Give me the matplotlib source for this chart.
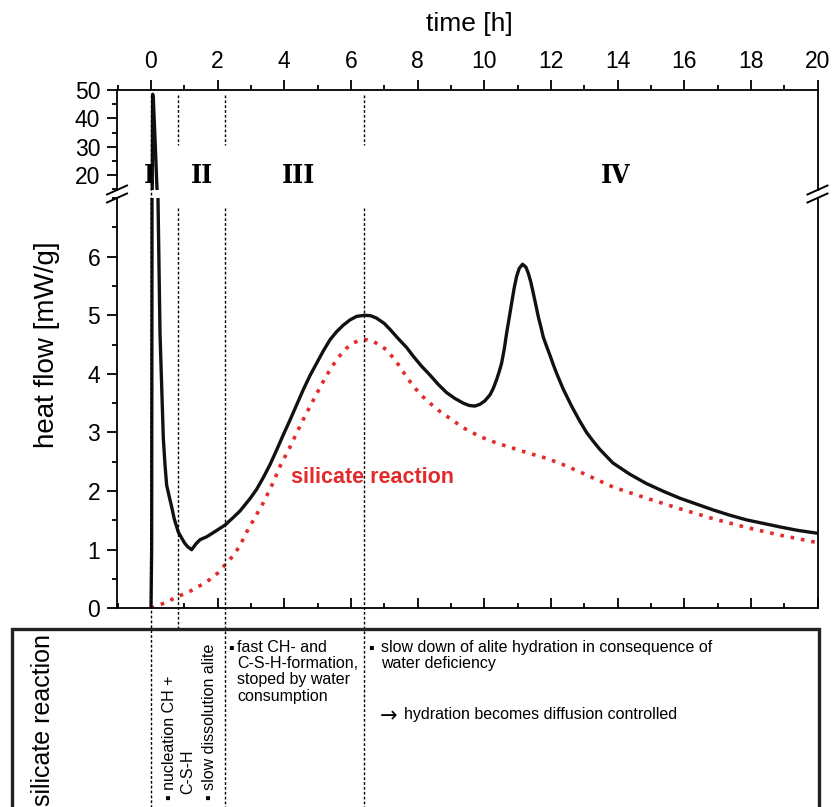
import numpy as np
import matplotlib
matplotlib.use('Agg')
import matplotlib.pyplot as plt
from matplotlib.lines import Line2D
from matplotlib.patches import Rectangle
from matplotlib.ticker import MultipleLocator
import matplotlib.transforms as mtrans

plt.rcParams['font.family'] = ['Liberation Sans', 'DejaVu Sans']

# total heat flow (black)
t_total = [0.0, 0.02, 0.03, 0.04, 0.05, 0.07, 0.12, 0.17, 0.21, 0.27, 0.32, 0.37,
           0.42, 0.47, 0.55, 0.62, 0.7, 0.82, 1.0, 1.1, 1.22, 1.35, 1.47, 1.67,
           1.95, 2.22, 2.47, 2.67, 2.97, 3.17, 3.37, 3.57, 3.77, 3.97, 4.17, 4.37,
           4.57, 4.77, 4.97, 5.17, 5.37, 5.57, 5.77, 5.97, 6.17, 6.42, 6.6, 6.77,
           7.0, 7.17, 7.42, 7.67, 7.87, 8.12, 8.37, 8.62, 8.87, 9.12, 9.37, 9.55,
           9.72, 9.87, 10.02, 10.17, 10.27, 10.37, 10.45, 10.52, 10.6, 10.67,
           10.75, 10.82, 10.9, 10.97, 11.05, 11.15, 11.25, 11.32, 11.4, 11.47,
           11.55, 11.62, 11.7, 11.77, 11.87, 11.97, 12.07, 12.17, 12.37, 12.62,
           12.86, 13.07, 13.27, 13.47, 13.86, 14.36, 14.86, 15.36, 15.86, 16.36,
           16.86, 17.36, 17.86, 18.36, 18.86, 19.4, 20.0]
q_total = [0.0, 1.0, 6.0, 20.0, 48.5, 47.0, 33.0, 18.0, 7.0, 4.7, 3.8, 2.9,
           2.45, 2.1, 1.9, 1.73, 1.52, 1.3, 1.12, 1.05, 1.0, 1.1, 1.17, 1.22,
           1.32, 1.42, 1.55, 1.66, 1.87, 2.03, 2.23, 2.45, 2.7, 2.96, 3.21, 3.47,
           3.73, 3.97, 4.18, 4.39, 4.58, 4.72, 4.83, 4.92, 4.98, 5.0, 4.99, 4.95,
           4.86, 4.76, 4.6, 4.45, 4.3, 4.13, 3.98, 3.82, 3.68, 3.58, 3.5, 3.46,
           3.45, 3.48, 3.54, 3.64, 3.75, 3.9, 4.04, 4.18, 4.42, 4.69,
           4.96, 5.2, 5.47, 5.66, 5.8, 5.87, 5.82, 5.72, 5.56, 5.38,
           5.17, 4.98, 4.8, 4.63, 4.47, 4.32, 4.16, 4.01, 3.74, 3.45,
           3.2, 3.0, 2.85, 2.71, 2.48, 2.29, 2.13, 2.0, 1.88, 1.78,
           1.68, 1.59, 1.51, 1.45, 1.39, 1.33, 1.28]

# silicate reaction (red dotted)
t_sil = [0.0, 0.4, 0.77, 1.2, 1.67, 2.0, 2.22, 2.47, 2.67, 2.87, 3.17, 3.37,
         3.67, 3.87, 4.17, 4.37, 4.62, 4.87, 5.12, 5.37, 5.62, 5.87, 6.05, 6.2,
         6.35, 6.5, 6.65, 6.8, 7.07, 7.37, 7.67, 7.87, 8.12, 8.37, 8.62, 8.87,
         9.37, 9.87, 10.37, 10.87, 11.37, 11.87, 12.37, 12.86, 13.36, 13.86,
         14.86, 15.86, 16.86, 17.86, 18.86, 20.0]
q_sil = [0.0, 0.09, 0.19, 0.3, 0.45, 0.6, 0.74, 0.9, 1.07, 1.3, 1.6, 1.8,
         2.15, 2.42, 2.75, 2.99, 3.28, 3.55, 3.82, 4.07, 4.28, 4.44, 4.52, 4.56,
         4.58, 4.58, 4.56, 4.51, 4.41, 4.2, 3.95, 3.79, 3.63, 3.5, 3.38, 3.28,
         3.08, 2.93, 2.82, 2.73, 2.64, 2.56, 2.45, 2.33, 2.2, 2.07,
         1.88, 1.7, 1.53, 1.38, 1.25, 1.12]

stage_bounds = [0.0, 0.8, 2.23, 6.4]
stages = ['I', 'II', 'III', 'IV']
stage_x = [-0.045, 1.52, 4.43, 13.95]

W, H = 834, 807
fig = plt.figure(figsize=(W / 100, H / 100), dpi=100)


def fy(py):
    return 1 - py / H


left, right = 117 / W, 817.5 / W
ax_top = fig.add_axes([left, fy(190), right - left, fy(90) - fy(190)])
ax_bot = fig.add_axes([left, fy(608.3), right - left, fy(198) - fy(608.3)])

red = '#e32b2b'
for ax in (ax_top, ax_bot):
    ax.plot(t_total, q_total, color='#111111', lw=2.4, solid_joinstyle='round', zorder=3)
    ax.set_xlim(-1.02, 20)
    for s in ax.spines.values():
        s.set_linewidth(1.3)

ax_bot.plot(t_sil, q_sil, color=red, lw=2.6, linestyle=(0, (1, 1.9)), zorder=2)

ax_top.set_ylim(14.71, 50)
ax_bot.set_ylim(0, 7.0)
ax_top.spines['bottom'].set_visible(False)
ax_bot.spines['top'].set_visible(False)

ax_top.xaxis.set_ticks_position('top')
ax_top.set_xticks(range(0, 21, 2))
ax_top.xaxis.set_minor_locator(MultipleLocator(1))
ax_top.set_yticks([20, 30, 40, 50])
ax_top.yaxis.set_minor_locator(MultipleLocator(5))
ax_top.tick_params(which='major', direction='out', length=7, width=1.3, labelsize=16.5, pad=5)
ax_top.tick_params(which='minor', direction='out', length=3.5, width=1.3)
ax_top.tick_params(axis='x', which='both', bottom=False, top=True, labelbottom=False, labeltop=True)

ax_bot.set_xticks(range(0, 21, 2))
ax_bot.xaxis.set_minor_locator(MultipleLocator(1))
ax_bot.set_yticks(range(0, 7))
ax_bot.yaxis.set_minor_locator(MultipleLocator(0.5))
ax_bot.tick_params(which='major', length=7, width=1.3, labelsize=16.5, pad=5)
ax_bot.tick_params(which='minor', length=3.5, width=1.3)
ax_bot.tick_params(axis='y', which='both', direction='out')
ax_bot.tick_params(axis='x', which='both', direction='in', labelbottom=False)

# axis break marks
for px in (117, 817.5):
    for py in (190, 198):
        fig.add_artist(Line2D([(px - 10) / W, (px + 10) / W], [fy(py + 4.5), fy(py - 4.5)],
                              color='black', lw=1.4))

# stage boundaries
blend = mtrans.blended_transform_factory(ax_bot.transData, fig.transFigure)
for x in stage_bounds:
    if x == 0.0:
        segs = [(95, 807)]
    elif x < 1:
        segs = [(95, 145), (208, 629)]
    else:
        segs = [(95, 145), (208, 807)]
    for a, b in segs:
        fig.add_artist(Line2D([x, x], [fy(a), fy(b)], transform=blend, color='black',
                              lw=1.0, linestyle=(0, (2, 1.5)), zorder=1))

for s, x in zip(stages, stage_x):
    ax_top.text(x, 17.2, s, ha='center', va='baseline', fontsize=19,
                family='DejaVu Serif', fontweight='bold', fontstretch='condensed', zorder=5)

ax_bot.text(4.2, 2.24, 'silicate reaction', color=red, fontsize=15.5, fontweight='bold',
            ha='left', va='center')

fig.text(469 / W, fy(24), 'time [h]', ha='center', va='center', fontsize=19)
fig.text(47 / W, fy(345), 'heat flow [mW/g]', ha='center', va='center', fontsize=20,
         rotation=90)

# description box
fig.add_artist(Rectangle((11.7 / W, -0.05), (819.3 - 11.7) / W, fy(629) + 0.05,
                         transform=fig.transFigure, fill=False, lw=2.4, edgecolor='#222222'))
fig.text(43.5 / W, fy(634), 'silicate reaction', rotation=90, ha='center', va='top',
         fontsize=18)

fs = 11.5
fig.text(169 / W, fy(800), '\u25aa nucleation CH +', rotation=90, ha='center', va='bottom',
         fontsize=fs)
fig.text(187.5 / W, fy(794), 'C-S-H', rotation=90, ha='center', va='bottom', fontsize=fs)
fig.text(209.5 / W, fy(800), '\u25aa slow dissolution alite', rotation=90, ha='center',
         va='bottom', fontsize=fs)

fig.text(231 / W, fy(649), '\u25aa', ha='center', va='center', fontsize=fs)
fig.text(237 / W, fy(640), 'fast CH- and\nC-S-H-formation,\nstoped by water\nconsumption',
         ha='left', va='top', fontsize=fs, linespacing=1.1)
fig.text(371 / W, fy(649), '\u25aa', ha='center', va='center', fontsize=fs)
fig.text(381 / W, fy(640), 'slow down of alite hydration in consequence of\nwater deficiency',
         ha='left', va='top', fontsize=fs, linespacing=1.1)
fig.text(380 / W, fy(716), '\u2192', ha='left', va='center', fontsize=15, family='DejaVu Sans')
fig.text(404 / W, fy(715), 'hydration becomes diffusion controlled',
         ha='left', va='center', fontsize=fs)

fig.savefig('out.png', dpi=100)
